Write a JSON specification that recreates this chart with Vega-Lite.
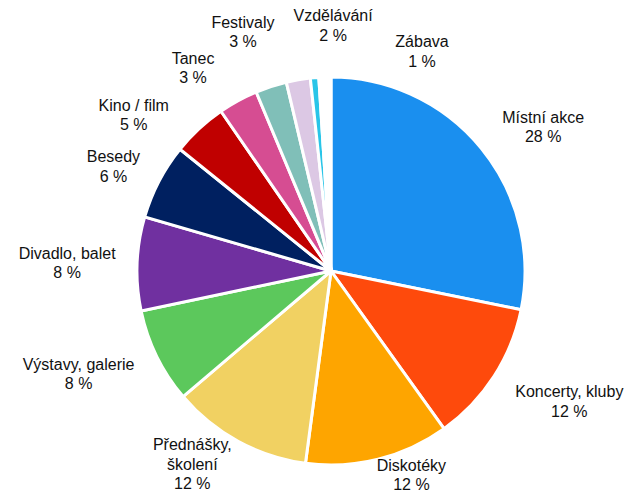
{
  "$schema": "https://vega.github.io/schema/vega-lite/v6.json",
  "width": 598,
  "height": 452,
  "autosize": {"type": "none"},
  "padding": {"left": 32, "top": 45, "right": 0, "bottom": 0},
  "background": "white",
  "config": {
    "view": {"stroke": null},
    "text": {"font": "Liberation Sans", "fontSize": 16, "lineBreak": "\n", "lineHeight": 19.5, "color": "#111111", "align": "center", "baseline": "middle", "dy": -10}
  },
  "data": {
    "values": [
      {"category": "Místní akce", "value": 28.2, "label": "Místní akce\n28 %", "order": 1},
      {"category": "Koncerty, kluby", "value": 11.9, "label": "Koncerty, kluby\n12 %", "order": 2},
      {"category": "Diskotéky", "value": 12.0, "label": "Diskotéky\n12 %", "order": 3},
      {"category": "Přednášky, školení", "value": 11.7, "label": "Přednášky,\nškolení\n12 %", "order": 4},
      {"category": "Výstavy, galerie", "value": 7.9, "label": "Výstavy, galerie\n8 %", "order": 5},
      {"category": "Divadlo, balet", "value": 7.8, "label": "Divadlo, balet\n8 %", "order": 6},
      {"category": "Besedy", "value": 6.3, "label": "Besedy\n6 %", "order": 7},
      {"category": "Kino / film", "value": 4.6, "label": "Kino / film\n5 %", "order": 8},
      {"category": "Tanec", "value": 3.3, "label": "Tanec\n3 %", "order": 9},
      {"category": "Festivaly", "value": 2.6, "label": "Festivaly\n3 %", "order": 10},
      {"category": "Vzdělávání", "value": 2.0, "label": "Vzdělávání\n2 %", "order": 11},
      {"category": "Zábava", "value": 0.7, "label": "Zábava\n1 %", "order": 12},
      {"category": "Ostatní", "value": 1.0, "label": "", "order": 13}
    ]
  },
  "transform": [
    {"stack": "value", "groupby": [], "sort": [{"field": "order", "order": "ascending"}], "as": ["v0", "v1"]}
  ],
  "layer": [
    {
      "mark": {"type": "arc", "outerRadius": 194, "stroke": "white", "strokeWidth": 3},
      "encoding": {
        "theta": {"field": "v0", "type": "quantitative", "stack": null, "scale": {"domain": [0, 100]}},
        "theta2": {"field": "v1"},
        "color": {
          "field": "category", "type": "nominal", "legend": null,
          "scale": {
            "domain": ["Místní akce", "Koncerty, kluby", "Diskotéky", "Přednášky, školení", "Výstavy, galerie", "Divadlo, balet", "Besedy", "Kino / film", "Tanec", "Festivaly", "Vzdělávání", "Zábava", "Ostatní"],
            "range": ["#1a8fef", "#fe4a0c", "#fea500", "#f1d162", "#5cc85c", "#7030a0", "#002060", "#c00000", "#d64d92", "#80bfb8", "#dcc8e4", "#29c5e8", "#ffffff"]
          }
        }
      }
    },
    {"transform": [{"filter": {"field": "category", "equal": "Místní akce"}}], "mark": {"type": "text", "radius": 256, "thetaOffset": 0.977}, "encoding": {"theta": {"field": "v0", "type": "quantitative", "stack": null}, "text": {"field": "label"}}},
    {"transform": [{"filter": {"field": "category", "equal": "Koncerty, kluby"}}], "mark": {"type": "text", "radius": 272, "thetaOffset": 0.302}, "encoding": {"theta": {"field": "v0", "type": "quantitative", "stack": null}, "text": {"field": "label"}}},
    {"transform": [{"filter": {"field": "category", "equal": "Diskotéky"}}], "mark": {"type": "text", "radius": 220, "thetaOffset": 0.248}, "encoding": {"theta": {"field": "v0", "type": "quantitative", "stack": null}, "text": {"field": "label"}}},
    {"transform": [{"filter": {"field": "category", "equal": "Přednášky, školení"}}], "mark": {"type": "text", "radius": 238, "thetaOffset": 0.490, "dy": -19}, "encoding": {"theta": {"field": "v0", "type": "quantitative", "stack": null}, "text": {"field": "label"}}},
    {"transform": [{"filter": {"field": "category", "equal": "Výstavy, galerie"}}], "mark": {"type": "text", "radius": 273, "thetaOffset": 0.313}, "encoding": {"theta": {"field": "v0", "type": "quantitative", "stack": null}, "text": {"field": "label"}}},
    {"transform": [{"filter": {"field": "category", "equal": "Divadlo, balet"}}], "mark": {"type": "text", "radius": 264, "thetaOffset": 0.234}, "encoding": {"theta": {"field": "v0", "type": "quantitative", "stack": null}, "text": {"field": "label"}}},
    {"transform": [{"filter": {"field": "category", "equal": "Besedy"}}], "mark": {"type": "text", "radius": 241, "thetaOffset": 0.162}, "encoding": {"theta": {"field": "v0", "type": "quantitative", "stack": null}, "text": {"field": "label"}}},
    {"transform": [{"filter": {"field": "category", "equal": "Kino / film"}}], "mark": {"type": "text", "radius": 251, "thetaOffset": -0.012}, "encoding": {"theta": {"field": "v0", "type": "quantitative", "stack": null}, "text": {"field": "label"}}},
    {"transform": [{"filter": {"field": "category", "equal": "Tanec"}}], "mark": {"type": "text", "radius": 245, "thetaOffset": 0.005}, "encoding": {"theta": {"field": "v0", "type": "quantitative", "stack": null}, "text": {"field": "label"}}},
    {"transform": [{"filter": {"field": "category", "equal": "Festivaly"}}], "mark": {"type": "text", "radius": 254, "thetaOffset": 0.042}, "encoding": {"theta": {"field": "v0", "type": "quantitative", "stack": null}, "text": {"field": "label"}}},
    {"transform": [{"filter": {"field": "category", "equal": "Vzdělávání"}}], "mark": {"type": "text", "radius": 245, "thetaOffset": 0.241}, "encoding": {"theta": {"field": "v0", "type": "quantitative", "stack": null}, "text": {"field": "label"}}},
    {"transform": [{"filter": {"field": "category", "equal": "Zábava"}}], "mark": {"type": "text", "radius": 237, "thetaOffset": 0.501}, "encoding": {"theta": {"field": "v0", "type": "quantitative", "stack": null}, "text": {"field": "label"}}}
  ]
}
